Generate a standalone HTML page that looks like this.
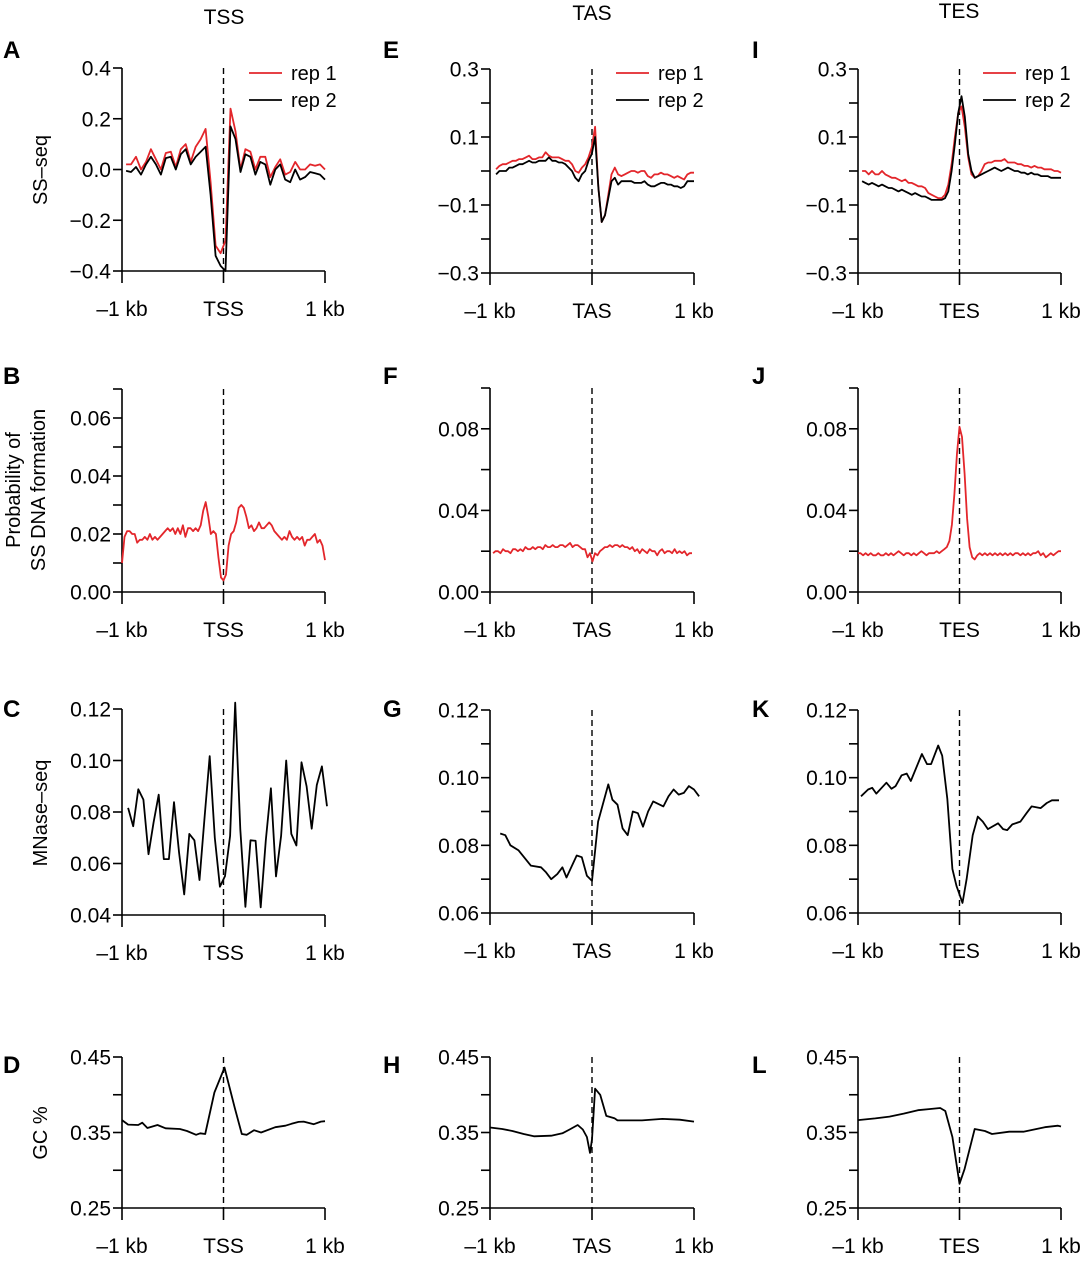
<!DOCTYPE html>
<html><head><meta charset="utf-8"><style>
html,body{margin:0;padding:0;background:#fff;}
svg{display:block;font-family:"Liberation Sans",Arial,sans-serif;}
</style></head>
<body>
<svg id="fig" width="1081" height="1280" viewBox="0 0 1081 1280" xmlns="http://www.w3.org/2000/svg">
<g font-size="21" text-anchor="middle">
<text x="224" y="24">TSS</text>
<text x="592" y="20">TAS</text>
<text x="959" y="18">TES</text>
</g>
<g font-size="24" font-weight="bold">
<text x="3" y="58">A</text>
<text x="3" y="384">B</text>
<text x="3" y="717">C</text>
<text x="3" y="1073">D</text>
<text x="383" y="58">E</text>
<text x="383" y="384">F</text>
<text x="383" y="717">G</text>
<text x="383" y="1073">H</text>
<text x="752" y="58">I</text>
<text x="752" y="384">J</text>
<text x="752" y="717">K</text>
<text x="752" y="1073">L</text>
</g>
<g font-size="20" text-anchor="middle">
<text transform="translate(47,170) rotate(-90)">SS–seq</text>
<text transform="translate(20,490) rotate(-90)">Probability of</text>
<text transform="translate(45,490) rotate(-90)">SS DNA formation</text>
<text transform="translate(47,813) rotate(-90)">MNase–seq</text>
<text transform="translate(47,1133) rotate(-90)">GC %</text>
</g>
<g id="panels"></g>
</svg>
<script>
const A_rep1=[0.02,0.02,0.05,0.0,0.03,0.08,0.04,0.0,0.065,0.07,0.01,0.08,0.1,0.03,0.09,0.12,0.16,-0.05,-0.3,-0.33,-0.28,0.24,0.15,0.0,0.08,0.07,0.0,0.05,0.05,-0.03,0.01,0.04,-0.02,-0.01,0.03,0.0,0.0,0.02,0.015,0.02,0.0];
const A_rep2=[-0.005,-0.01,0.01,-0.02,0.02,0.05,0.02,-0.02,0.045,0.05,0.0,0.06,0.08,0.02,0.05,0.07,0.09,-0.1,-0.34,-0.38,-0.4,0.17,0.12,-0.01,0.06,0.05,-0.02,0.03,0.02,-0.06,0.0,0.02,-0.04,-0.05,0.0,-0.04,-0.03,-0.01,-0.015,-0.02,-0.04];
const E_rep1=[0.005,0.015,0.02,0.02,0.025,0.03,0.03,0.035,0.035,0.04,0.045,0.035,0.035,0.04,0.04,0.055,0.045,0.04,0.04,0.04,0.035,0.03,0.03,0.02,0.0,-0.005,0.01,0.02,0.04,0.07,0.13,-0.05,-0.15,-0.13,-0.07,-0.01,0.01,-0.01,-0.015,-0.01,-0.005,0.0,0.0,-0.005,0.0,0.0,-0.015,-0.02,-0.01,-0.01,-0.005,-0.01,-0.01,-0.015,-0.02,-0.015,-0.02,-0.025,-0.01,-0.005,-0.005];
const E_rep2=[-0.01,0.0,0.0,0.0,0.01,0.01,0.015,0.02,0.02,0.025,0.03,0.025,0.025,0.03,0.03,0.03,0.04,0.03,0.03,0.025,0.025,0.02,0.01,0.0,-0.02,-0.03,-0.01,0.0,0.03,0.05,0.1,-0.05,-0.15,-0.13,-0.08,-0.03,-0.02,-0.04,-0.03,-0.03,-0.03,-0.03,-0.035,-0.035,-0.035,-0.03,-0.04,-0.045,-0.045,-0.04,-0.035,-0.035,-0.04,-0.04,-0.045,-0.045,-0.05,-0.045,-0.03,-0.03,-0.03];
const I_rep1=[0.0,0.0,-0.01,0.0,-0.01,-0.01,0.0,-0.01,-0.015,-0.02,-0.02,-0.025,-0.03,-0.025,-0.035,-0.035,-0.04,-0.045,-0.045,-0.05,-0.065,-0.07,-0.075,-0.08,-0.08,-0.07,-0.04,0.02,0.1,0.17,0.19,0.13,0.04,-0.01,-0.02,-0.015,0.0,0.02,0.025,0.025,0.03,0.03,0.03,0.035,0.025,0.025,0.025,0.02,0.02,0.015,0.015,0.01,0.015,0.01,0.01,0.005,0.005,0.005,0.0,0.0,-0.005];
const I_rep2=[-0.03,-0.035,-0.04,-0.035,-0.04,-0.045,-0.04,-0.045,-0.05,-0.05,-0.055,-0.06,-0.055,-0.06,-0.065,-0.07,-0.065,-0.07,-0.075,-0.075,-0.08,-0.085,-0.085,-0.085,-0.085,-0.08,-0.06,0.0,0.08,0.17,0.22,0.16,0.05,0.0,-0.02,-0.015,-0.01,-0.005,0.0,0.005,0.01,0.005,0.0,0.005,0.01,0.005,0.0,0.0,-0.005,-0.005,-0.01,-0.005,-0.01,-0.01,-0.015,-0.015,-0.015,-0.02,-0.02,-0.02,-0.02];
const B_prob=[0.010,0.019,0.021,0.021,0.020,0.020,0.017,0.018,0.018,0.019,0.018,0.020,0.018,0.019,0.018,0.019,0.020,0.021,0.022,0.021,0.022,0.020,0.022,0.020,0.023,0.019,0.022,0.022,0.021,0.022,0.021,0.023,0.028,0.031,0.026,0.020,0.021,0.020,0.012,0.005,0.004,0.006,0.016,0.020,0.021,0.024,0.029,0.030,0.029,0.026,0.022,0.023,0.021,0.022,0.024,0.022,0.022,0.023,0.024,0.023,0.021,0.020,0.019,0.018,0.019,0.018,0.021,0.019,0.018,0.019,0.018,0.019,0.016,0.018,0.018,0.019,0.020,0.017,0.018,0.016,0.011];
const F_prob=[0.019,0.020,0.020,0.019,0.021,0.020,0.020,0.019,0.021,0.021,0.020,0.021,0.020,0.022,0.021,0.021,0.022,0.021,0.022,0.022,0.021,0.023,0.022,0.022,0.023,0.022,0.022,0.023,0.023,0.022,0.023,0.024,0.022,0.023,0.023,0.022,0.021,0.021,0.017,0.019,0.015,0.019,0.018,0.020,0.021,0.022,0.022,0.023,0.022,0.023,0.023,0.022,0.023,0.022,0.022,0.021,0.022,0.020,0.021,0.019,0.021,0.020,0.019,0.021,0.020,0.020,0.018,0.020,0.021,0.019,0.020,0.020,0.019,0.021,0.019,0.020,0.019,0.020,0.018,0.019,0.019];
const J_prob=[0.019,0.019,0.018,0.019,0.018,0.019,0.018,0.018,0.019,0.018,0.018,0.019,0.018,0.019,0.018,0.019,0.020,0.019,0.018,0.019,0.019,0.018,0.019,0.018,0.019,0.020,0.019,0.018,0.019,0.019,0.019,0.020,0.019,0.020,0.021,0.022,0.025,0.033,0.048,0.068,0.081,0.076,0.058,0.036,0.022,0.017,0.016,0.018,0.019,0.018,0.019,0.018,0.019,0.018,0.019,0.018,0.019,0.018,0.019,0.018,0.019,0.018,0.019,0.019,0.018,0.019,0.018,0.019,0.018,0.019,0.019,0.020,0.018,0.019,0.017,0.018,0.019,0.018,0.019,0.020,0.020];
const C_mnase=[0.0816,0.0745,0.0888,0.0848,0.0636,0.076,0.0867,0.0617,0.0617,0.0838,0.0641,0.048,0.0715,0.069,0.0536,0.078,0.1017,0.07,0.051,0.0551,0.0707,0.1225,0.0733,0.0432,0.069,0.0688,0.043,0.069,0.0892,0.055,0.0707,0.1,0.0715,0.067,0.0993,0.09,0.0735,0.0905,0.0977,0.0822];
const G_x=[-0.9,-0.85,-0.8,-0.72,-0.6,-0.5,-0.45,-0.4,-0.34,-0.29,-0.25,-0.15,-0.1,-0.05,0,0.06,0.16,0.2,0.25,0.3,0.35,0.4,0.45,0.5,0.55,0.6,0.7,0.75,0.8,0.85,0.9,0.95,1.0,1.05];
const G_mnase=[0.0835,0.083,0.080,0.0785,0.074,0.0735,0.072,0.070,0.0715,0.0735,0.0705,0.077,0.0765,0.071,0.0695,0.087,0.098,0.0935,0.092,0.085,0.083,0.090,0.0895,0.0855,0.090,0.093,0.0915,0.0945,0.0965,0.095,0.0955,0.0975,0.0965,0.0945];
const K_x=[-0.97,-0.9,-0.86,-0.82,-0.72,-0.67,-0.63,-0.57,-0.52,-0.48,-0.37,-0.32,-0.28,-0.21,-0.17,-0.12,-0.07,-0.03,0.03,0.07,0.13,0.18,0.23,0.28,0.38,0.43,0.47,0.52,0.6,0.66,0.71,0.8,0.86,0.91,0.98];
const K_mnase=[0.0945,0.0965,0.097,0.0953,0.0985,0.0967,0.0975,0.1007,0.1012,0.099,0.107,0.104,0.104,0.1095,0.1065,0.0938,0.073,0.068,0.063,0.070,0.083,0.0885,0.087,0.0848,0.0865,0.0848,0.0845,0.0862,0.087,0.0895,0.0915,0.091,0.0925,0.0933,0.0933];
const D_x=[-1,-0.94,-0.84,-0.8,-0.75,-0.65,-0.57,-0.43,-0.36,-0.27,-0.23,-0.18,-0.09,0.01,0.11,0.18,0.23,0.3,0.37,0.51,0.61,0.67,0.74,0.79,0.89,0.96,1.0];
const D_gc=[0.3664,0.3605,0.36,0.363,0.356,0.36,0.3556,0.3546,0.352,0.347,0.349,0.348,0.403,0.436,0.383,0.348,0.347,0.353,0.35,0.357,0.359,0.3615,0.364,0.3645,0.361,0.3645,0.365];
const H_x=[-1,-0.88,-0.78,-0.67,-0.57,-0.4,-0.29,-0.22,-0.14,-0.09,-0.05,-0.02,0.0,0.03,0.08,0.14,0.22,0.25,0.49,0.69,0.86,1.0];
const H_gc=[0.3566,0.3546,0.352,0.348,0.345,0.3457,0.349,0.354,0.36,0.354,0.344,0.323,0.341,0.408,0.40,0.372,0.369,0.366,0.366,0.368,0.367,0.3645];
const L_x=[-1,-0.83,-0.69,-0.55,-0.41,-0.3,-0.19,-0.14,-0.07,0.0,0.05,0.15,0.25,0.32,0.49,0.63,0.84,0.97,1.0];
const L_gc=[0.3664,0.3687,0.371,0.375,0.3795,0.381,0.3825,0.3785,0.344,0.282,0.3018,0.3546,0.352,0.348,0.351,0.351,0.357,0.359,0.358];
const ssTicksA=[0.4,0.2,0.0,-0.2,-0.4];
const ssLabelsA=["0.4","0.2","0.0","−0.2","−0.4"];
const ssTicksEI=[0.3,0.1,-0.1,-0.3];
const ssLabelsEI=["0.3","0.1","−0.1","−0.3"];
const ssMinorEI=[0.2,0.0,-0.2];
const probTicksB=[0.06,0.04,0.02,0.0];
const probLabelsB=["0.06","0.04","0.02","0.00"];
const probMinorB=[0.07,0.05,0.03,0.01];
const probTicksFJ=[0.08,0.04,0.0];
const probLabelsFJ=["0.08","0.04","0.00"];
const probMinorFJ=[0.1,0.06,0.02];
const mnTicksC=[0.12,0.10,0.08,0.06,0.04];
const mnLabelsC=["0.12","0.10","0.08","0.06","0.04"];
const mnTicksGK=[0.12,0.10,0.08,0.06];
const mnLabelsGK=["0.12","0.10","0.08","0.06"];
const mnMinorGK=[0.11,0.09,0.07];
const gcTicks=[0.45,0.35,0.25];
const gcLabels=["0.45","0.35","0.25"];
const gcMinor=[0.40,0.30];
const xTickKb=[-1,0,1];
const seriesNames=["rep 1","rep 2"];

const NS="http://www.w3.org/2000/svg";
const root=document.getElementById('panels');
const RED="#e3262b";
function mk(tag,attrs,parent){const e=document.createElementNS(NS,tag);for(const k in attrs)e.setAttribute(k,attrs[k]);parent.appendChild(e);return e;}
function evenX(n,a,b){const r=[];for(let i=0;i<n;i++)r.push(a+(b-a)*i/(n-1));return r;}

function panel(p){
  const g=mk('g',{},root);
  
  
  const xs=kb=>p.x0+(kb+1)*(p.x1-p.x0)/2;
  const ys=v=>p.yb+(v-p.vmin)*(p.yt-p.yb)/(p.vmax-p.vmin);
  const top=ys(p.vmax), bot=ys(p.vmin);
  const ya=mk('line',{x1:p.x0,y1:top,x2:p.x0,y2:bot,stroke:'#000','stroke-width':1.6},g);
  
  
  const xa=mk('line',{x1:p.x0,y1:bot,x2:p.x1,y2:bot,stroke:'#000','stroke-width':1.6},g);
  
  
  p.ticks.forEach((v,i)=>{
    const t=mk('line',{x1:p.x0-9,y1:ys(v),x2:p.x0,y2:ys(v),stroke:'#000','stroke-width':1.6},g);
    
    
    const l=mk('text',{x:p.x0-11,y:ys(v)+7.5,'font-size':21,'text-anchor':'end'},g);
    l.textContent=p.labels[i];
    
    
  });
  (p.minor||[]).forEach(v=>{
    const t=mk('line',{x1:p.x0-9,y1:ys(v),x2:p.x0,y2:ys(v),stroke:'#000','stroke-width':1.6},g);
    
    
  });
  const xl=["–1 kb",p.site,"1 kb"];
  xTickKb.forEach((k,i)=>{
    const t=mk('line',{x1:xs(k),y1:bot,x2:xs(k),y2:bot+12,stroke:'#000','stroke-width':1.6},g);
    
    
    const l=mk('text',{x:xs(k),y:bot+45,'font-size':21,'text-anchor':'middle'},g);
    l.textContent=xl[i];
    
    
  });
  const d=mk('line',{x1:xs(0),y1:top,x2:xs(0),y2:bot,stroke:'#000','stroke-width':1.4,'stroke-dasharray':'6,4'},g);
  
  
  p.series.forEach(s=>{
    const px=s.x||evenX(s.y.length,s.a,s.b);
    const pts=s.y.map((v,i)=>xs(px[i]).toFixed(1)+','+ys(v).toFixed(1)).join(' ');
    const pl=mk('polyline',{points:pts,fill:'none',stroke:s.color,'stroke-width':1.8,'stroke-linejoin':'round'},g);
    
    
  });
  if(p.legend){
    const lg=mk('g',{},g);
    
    
    [RED,'#000'].forEach((c,i)=>{
      const y=p.legend[1]+i*27;
      const ln=mk('line',{x1:p.legend[0],y1:y,x2:p.legend[0]+33,y2:y,stroke:c,'stroke-width':1.8},lg);
      
      
      const tx=mk('text',{x:p.legend[0]+42,y:y+7,'font-size':20},lg);
      tx.textContent=seriesNames[i];
      
      
    });
  }
}
const cols=[[122,325,'TSS'],[490,694,'TAS'],[858,1061,'TES']];
panel({name:'panel-a',x0:cols[0][0],x1:cols[0][1],site:'TSS',vmin:-0.4,vmax:0.4,yb:271,yt:68,ticks:ssTicksA,labels:ssLabelsA,legend:[249,73],
  series:[{name:'line-rep1',y:A_rep1,a:-0.96,b:1.0,color:RED},{name:'line-rep2',y:A_rep2,a:-0.96,b:1.0,color:'#000'}]});
panel({name:'panel-e',x0:cols[1][0],x1:cols[1][1],site:'TAS',vmin:-0.3,vmax:0.3,yb:273,yt:69,ticks:ssTicksEI,labels:ssLabelsEI,minor:ssMinorEI,legend:[616,73],
  series:[{name:'line-rep1',y:E_rep1,a:-0.94,b:1.0,color:RED},{name:'line-rep2',y:E_rep2,a:-0.94,b:1.0,color:'#000'}]});
panel({name:'panel-i',x0:cols[2][0],x1:cols[2][1],site:'TES',vmin:-0.3,vmax:0.3,yb:273,yt:69,ticks:ssTicksEI,labels:ssLabelsEI,minor:ssMinorEI,legend:[983,73],
  series:[{name:'line-rep1',y:I_rep1,a:-0.96,b:1.0,color:RED},{name:'line-rep2',y:I_rep2,a:-0.96,b:1.0,color:'#000'}]});
panel({name:'panel-b',x0:cols[0][0],x1:cols[0][1],site:'TSS',vmin:0,vmax:0.07,yb:592,yt:389,ticks:probTicksB,labels:probLabelsB,minor:probMinorB,
  series:[{name:'line-probability',y:B_prob,a:-1,b:1,color:RED}]});
panel({name:'panel-f',x0:cols[1][0],x1:cols[1][1],site:'TAS',vmin:0,vmax:0.1,yb:592,yt:388,ticks:probTicksFJ,labels:probLabelsFJ,minor:probMinorFJ,
  series:[{name:'line-probability',y:F_prob,a:-0.97,b:0.98,color:RED}]});
panel({name:'panel-j',x0:cols[2][0],x1:cols[2][1],site:'TES',vmin:0,vmax:0.1,yb:592,yt:388,ticks:probTicksFJ,labels:probLabelsFJ,minor:probMinorFJ,
  series:[{name:'line-probability',y:J_prob,a:-1,b:1,color:RED}]});
panel({name:'panel-c',x0:cols[0][0],x1:cols[0][1],site:'TSS',vmin:0.04,vmax:0.12,yb:915,yt:709,ticks:mnTicksC,labels:mnLabelsC,
  series:[{name:'line-mnase',y:C_mnase,a:-0.94,b:1.02,color:'#000'}]});
panel({name:'panel-g',x0:cols[1][0],x1:cols[1][1],site:'TAS',vmin:0.06,vmax:0.12,yb:913,yt:710,ticks:mnTicksGK,labels:mnLabelsGK,minor:mnMinorGK,
  series:[{name:'line-mnase',x:G_x,y:G_mnase,color:'#000'}]});
panel({name:'panel-k',x0:cols[2][0],x1:cols[2][1],site:'TES',vmin:0.06,vmax:0.12,yb:913,yt:710,ticks:mnTicksGK,labels:mnLabelsGK,minor:mnMinorGK,
  series:[{name:'line-mnase',x:K_x,y:K_mnase,color:'#000'}]});
panel({name:'panel-d',x0:cols[0][0],x1:cols[0][1],site:'TSS',vmin:0.25,vmax:0.45,yb:1208,yt:1057,ticks:gcTicks,labels:gcLabels,minor:gcMinor,
  series:[{name:'line-gc',x:D_x,y:D_gc,color:'#000'}]});
panel({name:'panel-h',x0:cols[1][0],x1:cols[1][1],site:'TAS',vmin:0.25,vmax:0.45,yb:1208,yt:1057,ticks:gcTicks,labels:gcLabels,minor:gcMinor,
  series:[{name:'line-gc',x:H_x,y:H_gc,color:'#000'}]});
panel({name:'panel-l',x0:cols[2][0],x1:cols[2][1],site:'TES',vmin:0.25,vmax:0.45,yb:1208,yt:1057,ticks:gcTicks,labels:gcLabels,minor:gcMinor,
  series:[{name:'line-gc',x:L_x,y:L_gc,color:'#000'}]});
</script>
</body></html>
